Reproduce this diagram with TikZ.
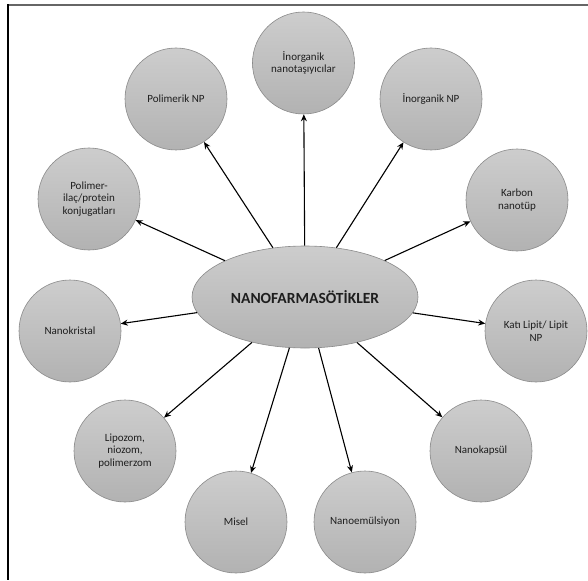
\documentclass[tikz,border=0pt]{standalone}
\usepackage{fontspec}
\setmainfont{Carlito}
\usetikzlibrary{arrows.meta,shapes.geometric}
\definecolor{topgray}{HTML}{CDCDCD}
\definecolor{botgray}{HTML}{B2B2B2}
\definecolor{edgegray}{HTML}{8A8A8A}
\definecolor{txt}{HTML}{1E1E1E}
\tikzset{
  bub/.style={circle,draw=edgegray,line width=0.6pt,top color=topgray,bottom color=botgray,
    minimum size=102pt,inner sep=0pt,align=center,font=\fontsize{11}{12.5}\selectfont,text=txt},
  hub/.style={ellipse,draw=edgegray,line width=0.6pt,top color=topgray,bottom color=botgray,
    minimum width=226pt,minimum height=102pt,inner sep=0pt,font=\bfseries\fontsize{15.5}{17}\selectfont,text=txt},
  arr/.style={-{Stealth[length=7pt,width=6pt]},line width=1.1pt,black}
}
\begin{document}
\begin{tikzpicture}[x=1pt,y=-1pt]
\useasboundingbox (0,0) rectangle (588,580);
\draw[line width=1.8pt,gray!80!black] (8,5) -- (588,5);
\draw[line width=1.2pt,black] (8,4.2) -- (8,580);
\node[hub] (c) at (305,297) {NANOFARMASÖTİKLER};
\node[bub] (n1) at (303.5,63) {İnorganik\\nanotaşıyıcılar};
\node[bub] (n2) at (176,99) {Polimerik NP};
\node[bub] (n3) at (431,99) {İnorganik NP};
\node[bub] (n4) at (89,199) {Polimer-\\ilaç/protein\\konjugatları};
\node[bub] (n5) at (517,200) {Karbon\\nanotüp};
\node[bub] (n6) at (70,331) {Nanokristal};
\node[bub] (n7) at (536,331) {Katı Lipit/ Lipit\\NP};
\node[bub] (n8) at (125,451) {Lipozom,\\niozom,\\polimerzom};
\node[bub] (n9) at (481,451) {Nanokapsül};
\node[bub] (n10) at (236,522) {Misel};
\node[bub] (n11) at (365,522) {Nanoemülsiyon};
\foreach \n in {n1,n2,n3,n4,n5,n6,n7,n8,n9,n10,n11}
  \draw[arr] (c) -- (\n);
\end{tikzpicture}
\end{document}
